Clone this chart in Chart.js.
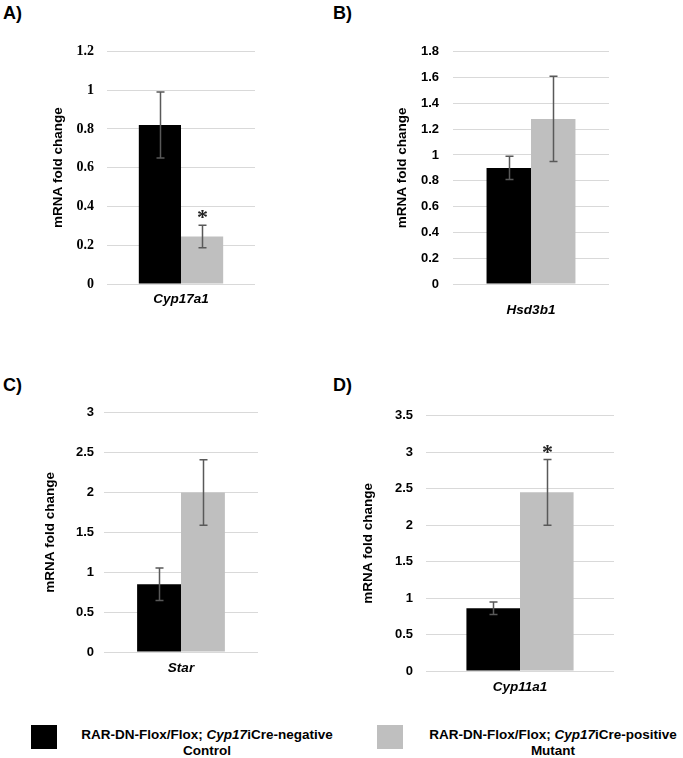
<!DOCTYPE html>
<html>
<head>
<meta charset="utf-8">
<script src="https://cdn.jsdelivr.net/npm/chart.js@4.4.1/dist/chart.umd.min.js"></script>
<style>
  html, body { margin: 0; padding: 0; background: #fff; }
  body { width: 683px; height: 758px; position: relative; overflow: hidden; font-family: "Liberation Sans", Arial, sans-serif; }
  .cv { position: absolute; }
  .letter { position: absolute; font: bold 18px "Liberation Sans", Arial, sans-serif; line-height: 18px; color: #000; }
  .sw { position: absolute; width: 26px; height: 24px; }
  .lt { position: absolute; font: bold 13.5px "Liberation Sans", Arial, sans-serif; line-height: 16px; text-align: center; color: #000; white-space: nowrap; }
</style>
</head>
<body>
<div class="letter" style="left:3px;top:4px;">A)</div>
<div class="letter" style="left:333px;top:4px;">B)</div>
<div class="letter" style="left:3px;top:376px;">C)</div>
<div class="letter" style="left:333px;top:376px;">D)</div>

<canvas id="c0" class="cv"></canvas>
<canvas id="c1" class="cv"></canvas>
<canvas id="c2" class="cv"></canvas>
<canvas id="c3" class="cv"></canvas>

<div class="sw" style="left:31px;top:725px;background:#000000;"></div>
<div class="lt" id="leg0" style="left:62px;top:727px;width:290px;"></div>
<div class="sw" style="left:377px;top:725px;background:#bfbfbf;"></div>
<div class="lt" id="leg1" style="left:408px;top:727px;width:290px;"></div>

<script>
// ---- data ----
const genes = ['Cyp17a1', 'Hsd3b1', 'Star', 'Cyp11a1'];
const controlMeans = [0.82, 0.90, 0.85, 0.86];
const controlErrors = [0.17, 0.09, 0.205, 0.085];
const mutantMeans = [0.245, 1.28, 2.00, 2.45];
const mutantErrors = [0.058, 0.33, 0.41, 0.45];
const mutantSignificant = [true, false, false, true];
const yMaxes = [1.2, 1.8, 3, 3.5];
const ySteps = [0.2, 0.2, 0.5, 0.5];
const yAxisTitle = 'mRNA fold change';
const seriesNames = ['Control', 'Mutant'];

// ---- layout / style ----
const panels = [
  { left: 0,   top: 30,  w: 290, h: 300, yW: 107, padR: 35, padT: 14, xH: 46, titlePad: 50, tickPad: 13, xPad: 7,  tickSize: 14, tickFamily: '"Liberation Serif", "Times New Roman", serif' },
  { left: 340, top: 30,  w: 300, h: 300, yW: 113, padR: 31, padT: 14, xH: 46, titlePad: 54, tickPad: 14, xPad: 18, tickSize: 13, tickFamily: '"Liberation Sans", Arial, sans-serif' },
  { left: 0,   top: 395, w: 290, h: 300, yW: 104, padR: 32, padT: 17, xH: 43, titlePad: 42, tickPad: 10, xPad: 8,  tickSize: 13, tickFamily: '"Liberation Sans", Arial, sans-serif' },
  { left: 340, top: 395, w: 300, h: 305, yW: 86,  padR: 26, padT: 15, xH: 29, titlePad: 20, tickPad: 13, xPad: 8,  tickSize: 13, tickFamily: '"Liberation Sans", Arial, sans-serif' }
];
const colors = ['#000000', '#bfbfbf'];
const errColor = '#595959';

// legend text
document.getElementById('leg0').innerHTML = 'RAR-DN-Flox/Flox; <i>Cyp17</i>iCre-negative<br>Control';
document.getElementById('leg1').innerHTML = 'RAR-DN-Flox/Flox; <i>Cyp17</i>iCre-positive<br>Mutant';

const errorBarPlugin = {
  id: 'errorBars',
  afterDatasetsDraw(chart) {
    const ctx = chart.ctx;
    const yScale = chart.scales.y;
    chart.data.datasets.forEach((ds, i) => {
      const meta = chart.getDatasetMeta(i);
      meta.data.forEach((bar, j) => {
        const v = ds.data[j];
        const e = ds.errors[j];
        const x = Math.round(bar.x) + 0.5;
        const yTop = yScale.getPixelForValue(v + e);
        const yBot = yScale.getPixelForValue(v - e);
        ctx.save();
        ctx.strokeStyle = errColor;
        ctx.lineWidth = 1.5;
        ctx.beginPath();
        ctx.moveTo(x, yTop); ctx.lineTo(x, yBot);
        ctx.moveTo(x - 4, yTop); ctx.lineTo(x + 4, yTop);
        ctx.moveTo(x - 4, yBot); ctx.lineTo(x + 4, yBot);
        ctx.stroke();
        if (ds.significant && ds.significant[j]) {
          ctx.fillStyle = '#222';
          ctx.font = 'bold 22px "Liberation Serif", "Times New Roman", serif';
          ctx.textAlign = 'center';
          ctx.textBaseline = 'alphabetic';
          ctx.fillText('*', x, yTop - 1);
        }
        ctx.restore();
      });
    });
  }
};

panels.forEach((p, k) => {
  const cv = document.getElementById('c' + k);
  cv.style.left = p.left + 'px';
  cv.style.top = p.top + 'px';
  cv.width = p.w; cv.height = p.h;
  cv.style.width = p.w + 'px'; cv.style.height = p.h + 'px';

  new Chart(cv, {
    type: 'bar',
    data: {
      labels: [genes[k]],
      datasets: [
        { label: seriesNames[0], data: [controlMeans[k]], errors: [controlErrors[k]], backgroundColor: colors[0], borderWidth: 0 },
        { label: seriesNames[1], data: [mutantMeans[k]], errors: [mutantErrors[k]], significant: [mutantSignificant[k]], backgroundColor: colors[1], borderWidth: 0 }
      ]
    },
    options: {
      responsive: false,
      animation: false,
      devicePixelRatio: 1,
      events: [],
      layout: { padding: { top: p.padT, right: p.padR, left: 0, bottom: 0 } },
      datasets: { bar: { categoryPercentage: 0.57, barPercentage: 1.0 } },
      plugins: { legend: { display: false }, tooltip: { enabled: false } },
      scales: {
        x: {
          grid: { display: false, drawTicks: false },
          border: { display: false },
          ticks: { color: '#000', padding: p.xPad, font: { family: '"Liberation Sans", Arial, sans-serif', size: 13.5, weight: 'bold', style: 'italic' } },
          afterFit(scale) { scale.height = p.xH; }
        },
        y: {
          min: 0, max: yMaxes[k],
          grid: { color: '#d9d9d9', lineWidth: 1, drawTicks: false },
          border: { display: false },
          ticks: {
            stepSize: ySteps[k], padding: p.tickPad, color: '#000',
            font: { family: p.tickFamily, size: p.tickSize, weight: 'bold' },
            callback: (v) => String(Number(v.toFixed(2)))
          },
          title: {
            display: true, text: yAxisTitle, color: '#000',
            padding: { top: p.titlePad, bottom: 0 },
            font: { family: '"Liberation Sans", Arial, sans-serif', size: 13.5, weight: 'bold' }
          },
          afterFit(scale) { scale.width = p.yW; }
        }
      }
    },
    plugins: [errorBarPlugin]
  });
});
</script>
</body>
</html>
